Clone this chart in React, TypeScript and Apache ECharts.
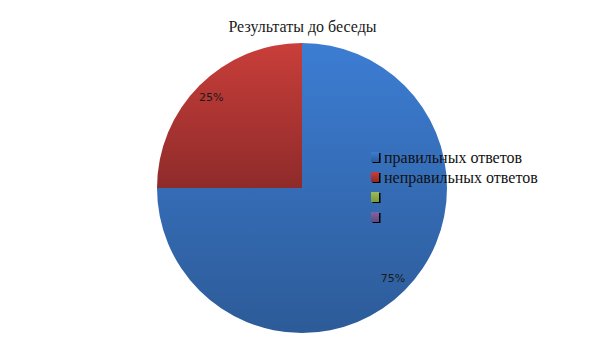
import React, { useEffect, useRef } from "react";
import * as echarts from "echarts";

const titleText = "Результаты до беседы";
const categories = ["правильных ответов", "неправильных ответов", "\u200b", "\u200b\u200b"];
const values = [75, 25, 0, 0];
const colorsTop = ["#3c7dd3", "#c93e3a", "#9bbb59", "#8064a2"];
const colorsBottom = ["#2d5b98", "#8e2b2a", "#7a9a3a", "#5f4a80"];

export default function App() {
  const ref = useRef<HTMLDivElement>(null);
  useEffect(() => {
    document.body.style.margin = "0";
    const chart = echarts.init(ref.current!, null, { renderer: "svg" });
    const data = categories.map((name, i) => ({
      name,
      value: values[i],
      itemStyle: {
        color: new echarts.graphic.LinearGradient(0, 0, 0, 1, [
          { offset: 0, color: colorsTop[i] },
          { offset: 1, color: colorsBottom[i] },
        ]),
      },
    }));
    const total = values.reduce((a, b) => a + b, 0);
    chart.setOption({
      animation: false,
      title: {
        text: titleText,
        left: "center",
        top: 13,
        textStyle: { fontFamily: "Liberation Serif", fontSize: 16, fontWeight: "normal", color: "#1a1a1a" },
      },
      legend: {
        orient: "vertical",
        left: 371,
        top: 147,
        padding: 0,
        icon: "rect",
        itemWidth: 8,
        itemHeight: 10,
        itemGap: 0,
        data: categories,
        itemStyle: { shadowColor: "#000", shadowOffsetX: 1.5, shadowOffsetY: 1, shadowBlur: 0 },
        textStyle: { fontFamily: "Liberation Serif", fontSize: 16, color: "#111", lineHeight: 20, height: 20 },
        formatter: (n: string) => (n.startsWith("\u200b") ? "\u00a0" : n),
      },
      series: [
        {
          type: "pie",
          center: [302, 188],
          radius: [0, 145],
          startAngle: 90,
          clockwise: true,
          silent: true,
          label: { show: false },
          labelLine: { show: false },
          data,
        },
        {
          type: "pie",
          center: [302, 188],
          radius: [106, 145],
          startAngle: 90,
          clockwise: true,
          silent: true,
          itemStyle: { color: "transparent" },
          label: {
            show: true,
            position: "inside",
            fontFamily: "DejaVu Sans",
            fontSize: 11,
            color: "#1a1a1a",
            formatter: (p: any) => (p.value > 0 ? Math.round((p.value / total) * 100) + "%" : ""),
          },
          labelLine: { show: false },
          data: categories.map((name, i) => ({ name, value: values[i] })),
        },
      ],
    });
    return () => chart.dispose();
  }, []);
  return <div ref={ref} style={{ width: 605, height: 340 }} />;
}
